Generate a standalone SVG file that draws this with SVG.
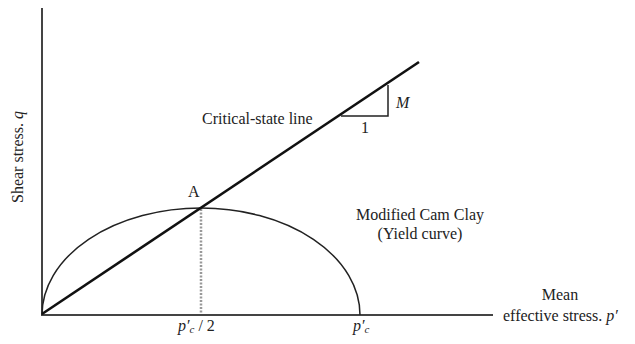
<svg xmlns="http://www.w3.org/2000/svg" width="635" height="344" viewBox="0 0 635 344">
<style>
text{font-family:"Liberation Serif","Times New Roman",serif;font-size:16px;fill:#222}
.it{font-style:italic}
.sub{font-style:italic;font-size:11px}
.ax{stroke:#444;stroke-width:2;fill:none}
.csl{stroke:#111;stroke-width:2.6;fill:none}
.thin{stroke:#222;stroke-width:1.5;fill:none}
.dot{stroke:#999;stroke-width:2.5;stroke-dasharray:2 1.5;fill:none}
</style>
<rect width="635" height="344" fill="#fff"/>
<g id="axes">
<line class="ax" x1="42" y1="8" x2="42" y2="315"/>
<line class="ax" x1="41" y1="315" x2="493" y2="315"/>
</g>
<g id="yield-curve">
<path class="thin" d="M42,315 A159,107 0 0 1 360,315"/>
</g>
<g id="connectors">
<line class="dot" x1="201" y1="209" x2="201" y2="314"/>
<line class="csl" x1="42" y1="314" x2="419" y2="62"/>
<path class="thin" d="M341,116 H388 V85"/>
</g>
<g id="labels">
<text x="202" y="124">Critical-state line</text>
<text class="it" x="396" y="108">M</text>
<text x="361" y="133">1</text>
<text x="188" y="197">A</text>
<text x="420" y="220" text-anchor="middle">Modified Cam Clay</text>
<text x="420" y="239" text-anchor="middle">(Yield curve)</text>
<text x="560" y="300" text-anchor="middle">Mean</text>
<text x="503" y="321">effective stress. <tspan class="it">p′</tspan></text>
<text x="178" y="331"><tspan class="it">p′</tspan><tspan class="sub" dy="2">c</tspan><tspan dy="-2"> / 2</tspan></text>
<text x="353" y="331"><tspan class="it">p′</tspan><tspan class="sub" dy="2">c</tspan></text>
<text transform="translate(23,157) rotate(-90)" text-anchor="middle" font-size="14">Shear stress. <tspan class="it">q</tspan></text>
</g>
</svg>
